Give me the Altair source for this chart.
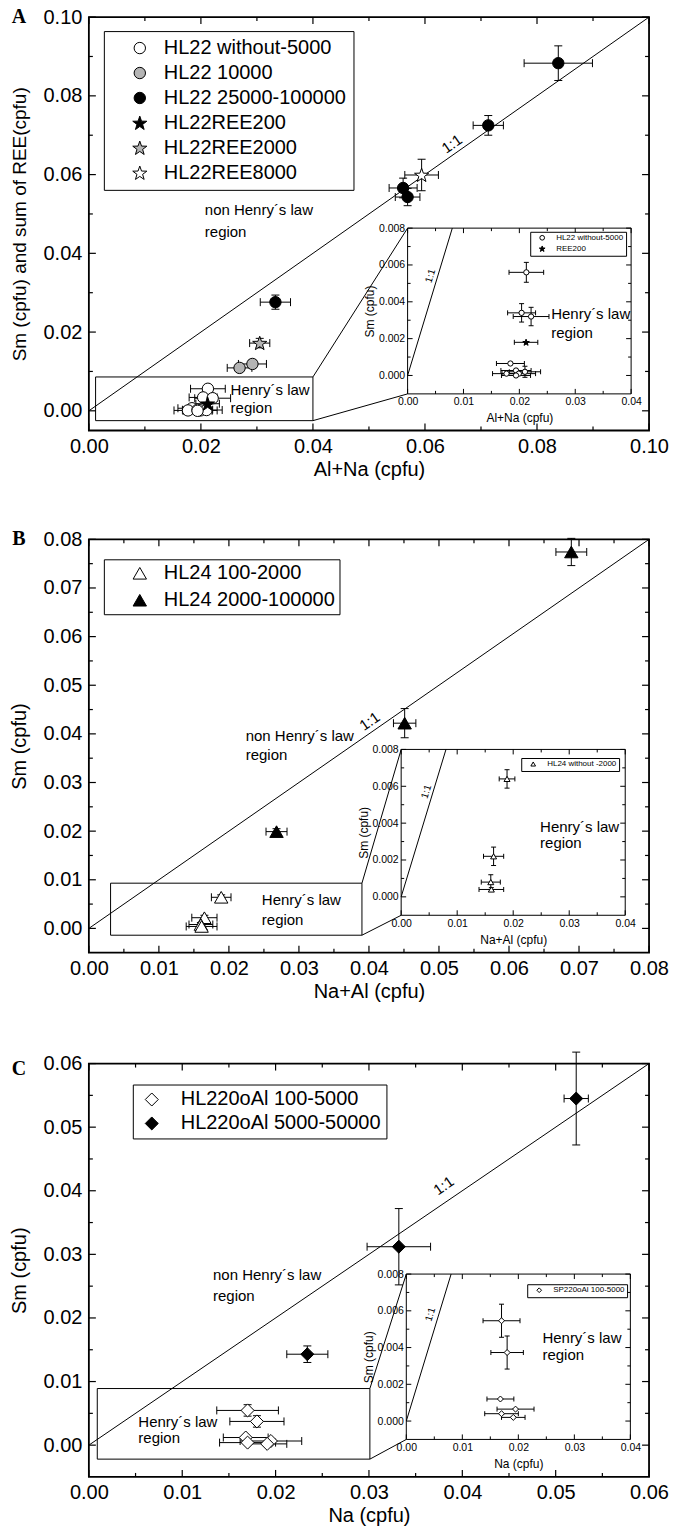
import math
import altair as alt
import pandas as pd

FONT = "Liberation Sans"
SERIF = "Liberation Serif"
W, H = 561, 414

# ================= Panel A data =================
A_XDOM = [0.0, 0.10]
A_YDOM = [-0.005, 0.10]
A_XLAB = [0.00, 0.02, 0.04, 0.06, 0.08, 0.10]
A_XMIN = [0.01, 0.03, 0.05, 0.07, 0.09]
A_YLAB = [0.00, 0.02, 0.04, 0.06, 0.08, 0.10]
A_YMIN = [0.01, 0.03, 0.05, 0.07, 0.09]
A_SERIES = ["HL22 without-5000", "HL22 10000", "HL22 25000-100000",
            "HL22REE200", "HL22REE2000", "HL22REE8000"]
A_SHAPES = ["circle", "circle", "circle", "star", "star", "star"]
A_FILLS = ["white", "#b4b4b4", "black", "black", "#b4b4b4", "white"]

A_WO_X = [0.02125, 0.0204, 0.0221, 0.0184, 0.0177, 0.0194, 0.0199, 0.0210, 0.0194]
A_WO_Y = [0.0056, 0.0034, 0.0032, 0.00065, 0.0001, 0.00027, 0.0001, 0.0002, 0.0]
A_WO_XE = [0.0031, 0.0025, 0.0032, 0.0025, 0.0025, 0.0027, 0.0030, 0.0028, 0.0026]
A_WO_YE = [0.00054, 0.0005, 0.0005, 0.0, 0.0, 0.0, 0.0, 0.0003, 0.0]
A_10K_X = [0.0269, 0.0292]
A_10K_Y = [0.0109, 0.0119]
A_10K_XE = [0.0022, 0.0025]
A_10K_YE = [0.0009, 0.0010]
A_25K_X = [0.0333, 0.0561, 0.0569, 0.0713, 0.0838]
A_25K_Y = [0.0276, 0.0566, 0.0543, 0.0725, 0.0883]
A_25K_XE = [0.0027, 0.0025, 0.0022, 0.0027, 0.0061]
A_25K_YE = [0.0018, 0.0025, 0.0022, 0.0025, 0.0044]
A_R200_X = [0.0212]
A_R200_Y = [0.0018]
A_R200_XE = [0.0021]
A_R200_YE = [0.0]
A_R2000_X = [0.0305]
A_R2000_Y = [0.0172]
A_R2000_XE = [0.0018]
A_R2000_YE = [0.0012]
A_R8000_X = [0.0594]
A_R8000_Y = [0.0599]
A_R8000_XE = [0.0030]
A_R8000_YE = [0.0040]
A_INSET_SERIES = ["HL22 without-5000", "REE200"]
A_INSET_SHAPES = ["circle", "star"]
A_INSET_FILLS = ["white", "black"]

A_BOX = [0.0012, 0.040, -0.0025, 0.0086]      # x0, x1, y0, y1 (main units)
A_INSET = [0.0569, 0.0968, 0.0043, 0.0464]    # inset frame in main units
A_TXT = ["non Henry´s law", "region", "Henry´s law", "region"]
A_TXT_X = [0.0207, 0.0207, 0.0253, 0.0253]
A_TXT_Y = [0.0510, 0.0454, 0.0053, 0.0008]
A_ONE_XY = [0.0648, 0.0678]
A_ITXT_X = [0.0257, 0.0257]
A_ITXT_Y = [0.00335, 0.00232]
A_IONE_XY = [0.0041, 0.0054]

# ================= Panel B data =================
B_XDOM = [0.0, 0.08]
B_YDOM = [-0.005, 0.08]
B_XLAB = [0.00, 0.01, 0.02, 0.03, 0.04, 0.05, 0.06, 0.07, 0.08]
B_XMIN = [0.005, 0.015, 0.025, 0.035, 0.045, 0.055, 0.065, 0.075]
B_YLAB = [0.00, 0.01, 0.02, 0.03, 0.04, 0.05, 0.06, 0.07, 0.08]
B_YMIN = [0.005, 0.015, 0.025, 0.035, 0.045, 0.055, 0.065, 0.075]
B_SERIES = ["HL24 100-2000", "HL24 2000-100000"]
B_SHAPES = ["triangle-up", "triangle-up"]
B_FILLS = ["white", "black"]
B_LO_X = [0.0189, 0.0165, 0.0160, 0.0161]
B_LO_Y = [0.0064, 0.0022, 0.0008, 0.0004]
B_LO_XE = [0.0014, 0.0018, 0.0017, 0.0022]
B_LO_YE = [0.0005, 0.0005, 0.0004, 0.0001]
B_HI_X = [0.0268, 0.0451, 0.0689]
B_HI_Y = [0.0199, 0.0422, 0.0774]
B_HI_XE = [0.0015, 0.0016, 0.0022]
B_HI_YE = [0.0006, 0.0030, 0.0028]
B_INSET_SERIES = ["HL24 without -2000"]
B_INSET_SHAPES = ["triangle-up"]
B_INSET_FILLS = ["white"]

B_BOX = [0.0031, 0.039, -0.0014, 0.0093]
B_INSET = [0.0446, 0.0766, 0.0027, 0.0368]
B_TXT = ["non Henry´s law", "region", "Henry´s law", "region"]
B_TXT_X = [0.0224, 0.0224, 0.0247, 0.0247]
B_TXT_Y = [0.0395, 0.0356, 0.0058, 0.0018]
B_ONE_XY = [0.0401, 0.0426]
B_ITXT_X = [0.0248, 0.0248]
B_ITXT_Y = [0.0038, 0.0029]
B_IONE_XY = [0.0045, 0.0057]

# ================= Panel C data =================
C_XDOM = [0.0, 0.06]
C_YDOM = [-0.005, 0.06]
C_XLAB = [0.00, 0.01, 0.02, 0.03, 0.04, 0.05, 0.06]
C_XMIN = [0.005, 0.015, 0.025, 0.035, 0.045, 0.055]
C_YLAB = [0.00, 0.01, 0.02, 0.03, 0.04, 0.05, 0.06]
C_YMIN = [0.005, 0.015, 0.025, 0.035, 0.045, 0.055]
C_SERIES = ["HL220oAl 100-5000", "HL220oAl 5000-50000"]
C_SHAPES = ["diamond", "diamond"]
C_FILLS = ["white", "black"]
C_LO_X = [0.0170, 0.0180, 0.0168, 0.0195, 0.0170, 0.0191]
C_LO_Y = [0.00546, 0.00373, 0.0012, 0.00065, 0.0004, 0.0002]
C_LO_XE = [0.0033, 0.0029, 0.0024, 0.0033, 0.0030, 0.0021]
C_LO_YE = [0.0009, 0.0009, 0.0, 0.0, 0.0, 0.0]
C_HI_X = [0.0234, 0.0332, 0.0522]
C_HI_Y = [0.0143, 0.0312, 0.0545]
C_HI_XE = [0.0022, 0.0034, 0.0013]
C_HI_YE = [0.0013, 0.0060, 0.0073]
C_INSET_SERIES = ["SP220oAl 100-5000"]
C_INSET_SHAPES = ["diamond"]
C_INSET_FILLS = ["white"]

C_BOX = [0.0009, 0.0301, -0.0022, 0.0089]
C_INSET = [0.034, 0.058, 0.0009, 0.0269]
C_TXT = ["non Henry´s law", "region", "Henry´s law", "region"]
C_TXT_X = [0.0133, 0.0133, 0.0053, 0.0053]
C_TXT_Y = [0.0268, 0.0234, 0.0037, 0.0011]
C_ONE_XY = [0.0380, 0.0408]
C_ITXT_X = [0.0243, 0.0243]
C_ITXT_Y = [0.00454, 0.00357]
C_IONE_XY = [0.0043, 0.0058]

# ================= inset axes (shared) =================
I_XDOM = [0.0, 0.04]
I_YDOM = [-0.001, 0.008]
I_XLAB = [0.00, 0.01, 0.02, 0.03, 0.04]
I_XMIN = [0.005, 0.015, 0.025, 0.035]
I_YLAB = [0.000, 0.002, 0.004, 0.006, 0.008]
I_YMIN = [0.001, 0.003, 0.005, 0.007]


def star_path(r_out=1.3, r_in=0.52):
    pts = []
    for i in range(10):
        r = r_out if i % 2 == 0 else r_in
        a = -math.pi / 2 + i * math.pi / 5
        pts.append(f"{r * math.cos(a):.3f},{r * math.sin(a) + 0.1:.3f}")
    return "M" + "L".join(pts) + "Z"


STAR = star_path()


def shapes(lst):
    return [STAR if s == "star" else s for s in lst]


def make_df(groups):
    rows = []
    for name, xs, ys, xes, yes in groups:
        for x, y, xe, ye in zip(xs, ys, xes, yes):
            rows.append(dict(series=name, x=x, y=y, xe=xe, ye=ye,
                             xlo=x - xe, xhi=x + xe, ylo=y - ye, yhi=y + ye))
    return pd.DataFrame(rows)


def encoders(dx, dy):
    def X(f, axis=None):
        return alt.X(f, type="quantitative", scale=alt.Scale(domain=dx, zero=False, nice=False), axis=axis)

    def Y(f, axis=None):
        return alt.Y(f, type="quantitative", scale=alt.Scale(domain=dy, zero=False, nice=False), axis=axis)
    return X, Y


def tick_layers(X, Y, xdom, ydom, xmaj, xmin, ymaj, ymin, L, l, sw):
    out = []
    for vals, ln in ((xmaj, L), (xmin, l)):
        db = pd.DataFrame({"x": vals, "y": [ydom[0]] * len(vals)})
        dt = pd.DataFrame({"x": vals, "y": [ydom[1]] * len(vals)})
        out.append(alt.Chart(db).mark_rule(color="black", strokeWidth=sw, y2Offset=-ln)
                   .encode(x=X("x"), y=Y("y"), y2=alt.Y2("y")))
        out.append(alt.Chart(dt).mark_rule(color="black", strokeWidth=sw, y2Offset=ln)
                   .encode(x=X("x"), y=Y("y"), y2=alt.Y2("y")))
    for vals, ln in ((ymaj, L), (ymin, l)):
        dl = pd.DataFrame({"y": vals, "x": [xdom[0]] * len(vals)})
        dr = pd.DataFrame({"y": vals, "x": [xdom[1]] * len(vals)})
        out.append(alt.Chart(dl).mark_rule(color="black", strokeWidth=sw, x2Offset=ln)
                   .encode(x=X("x"), x2=alt.X2("x"), y=Y("y")))
        out.append(alt.Chart(dr).mark_rule(color="black", strokeWidth=sw, x2Offset=-ln)
                   .encode(x=X("x"), x2=alt.X2("x"), y=Y("y")))
    return out


def errorbar_layers(df, X, Y, cap, sw=1.0):
    out = []
    dh = df[df.xe > 0]
    if len(dh):
        out.append(alt.Chart(dh).mark_rule(color="black", strokeWidth=sw)
                   .encode(x=X("xlo"), x2=alt.X2("xhi"), y=Y("y")))
        for f in ("xlo", "xhi"):
            out.append(alt.Chart(dh).mark_rule(color="black", strokeWidth=sw, yOffset=-cap, y2Offset=cap)
                       .encode(x=X(f), y=Y("y"), y2=alt.Y2("y")))
    dv = df[df.ye > 0]
    if len(dv):
        out.append(alt.Chart(dv).mark_rule(color="black", strokeWidth=sw)
                   .encode(x=X("x"), y=Y("ylo"), y2=alt.Y2("yhi")))
        for f in ("ylo", "yhi"):
            out.append(alt.Chart(dv).mark_rule(color="black", strokeWidth=sw, xOffset=-cap, x2Offset=cap)
                       .encode(x=X("x"), x2=alt.X2("x"), y=Y(f)))
    return out


def points_layer(df, X, Y, names, shp, fills, size, legend):
    return alt.Chart(df).mark_point(filled=True, opacity=1, strokeWidth=1, size=size).encode(
        x=X("x"), y=Y("y"),
        shape=alt.Shape("series:N", scale=alt.Scale(domain=names, range=shapes(shp)), legend=legend),
        fill=alt.Fill("series:N", scale=alt.Scale(domain=names, range=fills), legend=legend),
        stroke=alt.Stroke("series:N", scale=alt.Scale(domain=names, range=["black"] * len(names)),
                          legend=legend),
    )


def text_layer(xs, ys, ts, X, Y, size, **kw):
    df = pd.DataFrame({"x": xs, "y": ys, "t": ts})
    return alt.Chart(df).mark_text(font=FONT, fontSize=size, color="black", baseline="middle", **kw).encode(
        x=X("x"), y=Y("y"), text="t:N")


def panel(P):
    xd, yd = P["xdom"], P["ydom"]
    X, Y = encoders(xd, yd)

    ax = alt.Axis(orient="bottom", values=P["xlab"], format=".2f", title=P["xtitle"], ticks=False, domain=False,
                  grid=False, labelFont=FONT, labelFontSize=20, labelPadding=6, labelFlush=False,
                  labelOverlap=False, labelColor="black", titleFont=FONT, titleFontSize=20,
                  titleFontWeight="normal", titlePadding=3, titleColor="black")
    ay = alt.Axis(orient="left", values=P["ylab"], format=".2f", title=P["ytitle"], ticks=False, domain=False,
                  grid=False, labelFont=FONT, labelFontSize=20, labelPadding=7, labelFlush=False,
                  labelOverlap=False, labelColor="black", titleFont=FONT, titleFontSize=P["ytsize"],
                  titleFontWeight="normal", titlePadding=14, titleColor="black")

    m = min(xd[1], yd[1])
    line_df = pd.DataFrame({"x": [0.0, m], "y": [0.0, m]})
    layers = [alt.Chart(line_df).mark_line(color="black", strokeWidth=1).encode(x=X("x", ax), y=Y("y", ay))]
    layers += tick_layers(X, Y, xd, yd, P["xlab"], P["xmin"], P["ylab"], P["ymin"], 7, 4, 1.2)

    bx0, bx1, by0, by1 = P["box"]
    box_df = pd.DataFrame({"x": [bx0], "x2": [bx1], "y": [by0], "y2": [by1]})
    layers.append(alt.Chart(box_df).mark_rect(fillOpacity=0, stroke="black", strokeWidth=1)
                  .encode(x=X("x"), x2=alt.X2("x2"), y=Y("y"), y2=alt.Y2("y2")))
    ix0, ix1, iy0, iy1 = P["inset"]
    con_df = pd.DataFrame({"x": [bx1, bx1], "y": [by1, by0], "x2": [ix0, ix0], "y2": [iy1, iy0]})
    layers.append(alt.Chart(con_df).mark_rule(color="black", strokeWidth=1)
                  .encode(x=X("x"), y=Y("y"), x2=alt.X2("x2"), y2=alt.Y2("y2")))

    df = make_df(P["groups"])
    layers += errorbar_layers(df, X, Y, 4)
    lp = P["leg"]
    leg = alt.Legend(title=None, orient="none", legendX=lp[0], legendY=lp[1],
                     padding=lp[2], strokeColor="black", fillColor="white", labelFont=FONT, labelFontSize=20,
                     labelColor="black", symbolSize=P["size"], symbolStrokeWidth=1,
                     rowPadding=lp[3], symbolOffset=lp[4], labelOffset=lp[5], labelLimit=400)
    layers.append(points_layer(df, X, Y, P["series"], P["shapes"], P["fills"], P["size"], leg))
    layers.append(text_layer(P["txt_x"], P["txt_y"], P["txt"], X, Y, 15, align="left"))
    layers.append(text_layer([P["one"][0]], [P["one"][1]], ["1:1"], X, Y, 15, align="center", angle=325))
    let_df = pd.DataFrame({"t": [P["letter"]]})
    layers.append(alt.Chart(let_df).mark_text(font=SERIF, fontSize=20, fontWeight="bold", color="black",
                                              align="center", baseline="middle")
                  .encode(x=alt.value(-70), y=alt.value(P["lety"]), text="t:N"))

    # ---- inset: its own scales, domains stretched so [0,0.04]x[-0.001,0.008] lands on the frame
    kx = (I_XDOM[1] - I_XDOM[0]) / (ix1 - ix0)
    ky = (I_YDOM[1] - I_YDOM[0]) / (iy1 - iy0)
    idx = [I_XDOM[0] + (xd[0] - ix0) * kx, I_XDOM[0] + (xd[1] - ix0) * kx]
    idy = [I_YDOM[0] + (yd[0] - iy0) * ky, I_YDOM[0] + (yd[1] - iy0) * ky]
    IX, IY = encoders(idx, idy)
    off_x = -H * (iy0 - yd[0]) / (yd[1] - yd[0])
    off_y = -W * (ix0 - xd[0]) / (xd[1] - xd[0])
    tx = W * ((ix0 + ix1) / 2 - xd[0]) / (xd[1] - xd[0])
    ty = H * (yd[1] - (iy0 + iy1) / 2) / (yd[1] - yd[0])
    iax = alt.Axis(orient="bottom", offset=off_x, values=I_XLAB, format=".2f", title=P["ixtitle"], titleX=tx,
                   titleY=24, titleBaseline="middle", ticks=False, domain=False, grid=False, labelFont=FONT,
                   labelFontSize=10.5, labelPadding=3, labelFlush=False, labelOverlap=False, labelColor="black",
                   titleFont=FONT, titleFontSize=12, titleFontWeight="normal", titleColor="black")
    iay = alt.Axis(orient="left", offset=off_y, values=I_YLAB, format=".3f", title=P["iytitle"], titleX=-38,
                   titleY=ty, titleAngle=270, titleBaseline="middle", ticks=False, domain=False, grid=False,
                   labelFont=FONT, labelFontSize=10.5, labelPadding=3, labelFlush=False, labelOverlap=False,
                   labelColor="black", titleFont=FONT, titleFontSize=12, titleFontWeight="normal",
                   titleColor="black")
    frame_df = pd.DataFrame({"x": [I_XDOM[0]], "x2": [I_XDOM[1]], "y": [I_YDOM[0]], "y2": [I_YDOM[1]]})
    layers.append(alt.Chart(frame_df).mark_rect(fill="white", stroke="black", strokeWidth=1)
                  .encode(x=IX("x", iax), x2=alt.X2("x2"), y=IY("y", iay), y2=alt.Y2("y2")))
    layers += tick_layers(IX, IY, I_XDOM, I_YDOM, I_XLAB, I_XMIN, I_YLAB, I_YMIN, 5, 3, 1)
    iline = pd.DataFrame({"x": [0.0, I_YDOM[1]], "y": [0.0, I_YDOM[1]]})
    layers.append(alt.Chart(iline).mark_line(color="black", strokeWidth=1).encode(x=IX("x"), y=IY("y")))
    idf = make_df(P["igroups"])
    layers += errorbar_layers(idf, IX, IY, 2.5)
    ileg = alt.Legend(title=None, orient="none", legendX=P["ilegxy"][0], legendY=P["ilegxy"][1], padding=2,
                      strokeColor="black", fillColor="white", labelFont=FONT, labelFontSize=8,
                      labelColor="black", symbolSize=22, symbolStrokeWidth=1,
                      rowPadding=1, labelOffset=10, symbolOffset=6, labelLimit=300)
    layers.append(points_layer(idf, IX, IY, P["iseries"], P["ishapes"], P["ifills"], P["isize"], ileg))
    layers.append(text_layer(P["itxt_x"], P["itxt_y"], ["Henry´s law", "region"], IX, IY, 15, align="left"))
    layers.append(text_layer([P["ione"][0]], [P["ione"][1]], ["1:1"], IX, IY, 10, align="center", angle=287))

    return (alt.layer(*layers)
            .resolve_scale(x="independent", y="independent", shape="independent", fill="independent",
                           stroke="independent")
            .properties(width=W, height=H))


# legend tuple: legendX, legendY, padding, rowPadding, symbolOffset, labelOffset
PA = dict(xdom=A_XDOM, ydom=A_YDOM, xlab=A_XLAB, xmin=A_XMIN, ylab=A_YLAB, ymin=A_YMIN,
          xtitle="Al+Na (cpfu)", ytitle="Sm (cpfu) and sum of REE(cpfu)", ytsize=19, box=A_BOX, inset=A_INSET,
          groups=[(A_SERIES[0], A_WO_X, A_WO_Y, A_WO_XE, A_WO_YE),
                  (A_SERIES[1], A_10K_X, A_10K_Y, A_10K_XE, A_10K_YE),
                  (A_SERIES[2], A_25K_X, A_25K_Y, A_25K_XE, A_25K_YE),
                  (A_SERIES[3], A_R200_X, A_R200_Y, A_R200_XE, A_R200_YE),
                  (A_SERIES[4], A_R2000_X, A_R2000_Y, A_R2000_XE, A_R2000_YE),
                  (A_SERIES[5], A_R8000_X, A_R8000_Y, A_R8000_XE, A_R8000_YE)],
          series=A_SERIES, shapes=A_SHAPES, fills=A_FILLS, size=130, leg=(15, 14, 7, 5, 19, 14),
          txt=A_TXT, txt_x=A_TXT_X, txt_y=A_TXT_Y, one=A_ONE_XY, letter="A", lety=0,
          ixtitle="Al+Na (cpfu)", iytitle="Sm (cpfu)",
          igroups=[(A_INSET_SERIES[0], A_WO_X, A_WO_Y, A_WO_XE, A_WO_YE),
                   (A_INSET_SERIES[1], A_R200_X, A_R200_Y, A_R200_XE, A_R200_YE)],
          iseries=A_INSET_SERIES, ishapes=A_INSET_SHAPES, ifills=A_INSET_FILLS, isize=28, ilegxy=(442, 215),
          itxt_x=A_ITXT_X, itxt_y=A_ITXT_Y, ione=A_IONE_XY)

PB = dict(xdom=B_XDOM, ydom=B_YDOM, xlab=B_XLAB, xmin=B_XMIN, ylab=B_YLAB, ymin=B_YMIN,
          xtitle="Na+Al (cpfu)", ytitle="Sm (cpfu)", ytsize=20, box=B_BOX, inset=B_INSET,
          groups=[(B_SERIES[0], B_LO_X, B_LO_Y, B_LO_XE, B_LO_YE),
                  (B_SERIES[1], B_HI_X, B_HI_Y, B_HI_XE, B_HI_YE)],
          series=B_SERIES, shapes=B_SHAPES, fills=B_FILLS, size=180, leg=(15, 20, 4, 7, 22, 14),
          txt=B_TXT, txt_x=B_TXT_X, txt_y=B_TXT_Y, one=B_ONE_XY, letter="B", lety=0,
          ixtitle="Na+Al (cpfu)", iytitle="Sm (cpfu)",
          igroups=[(B_INSET_SERIES[0], B_LO_X, B_LO_Y, B_LO_XE, B_LO_YE)],
          iseries=B_INSET_SERIES, ishapes=B_INSET_SHAPES, ifills=B_INSET_FILLS, isize=36, ilegxy=(433, 219),
          itxt_x=B_ITXT_X, itxt_y=B_ITXT_Y, ione=B_IONE_XY)

PC = dict(xdom=C_XDOM, ydom=C_YDOM, xlab=C_XLAB, xmin=C_XMIN, ylab=C_YLAB, ymin=C_YMIN,
          xtitle="Na (cpfu)", ytitle="Sm (cpfu)", ytsize=20, box=C_BOX, inset=C_INSET,
          groups=[(C_SERIES[0], C_LO_X, C_LO_Y, C_LO_XE, C_LO_YE),
                  (C_SERIES[1], C_HI_X, C_HI_Y, C_HI_XE, C_HI_YE)],
          series=C_SERIES, shapes=C_SHAPES, fills=C_FILLS, size=170, leg=(44, 21, 5, 4, 4, 19),
          txt=C_TXT, txt_x=C_TXT_X, txt_y=C_TXT_Y, one=C_ONE_XY, letter="C", lety=5,
          ixtitle="Na (cpfu)", iytitle="Sm (cpfu)",
          igroups=[(C_INSET_SERIES[0], C_LO_X, C_LO_Y, C_LO_XE, C_LO_YE)],
          iseries=C_INSET_SERIES, ishapes=C_INSET_SHAPES, ifills=C_INSET_FILLS, isize=36, ilegxy=(439, 221),
          itxt_x=C_ITXT_X, itxt_y=C_ITXT_Y, ione=C_IONE_XY)

chart = (alt.vconcat(panel(PA), panel(PB), panel(PC), spacing=48)
         .configure(padding={"left": 8, "top": 5, "right": 5, "bottom": 5}, font=FONT)
         .configure_view(stroke="black", strokeWidth=1.8))

chart.save("out.html", embed_options={"renderer": "svg", "actions": False})
